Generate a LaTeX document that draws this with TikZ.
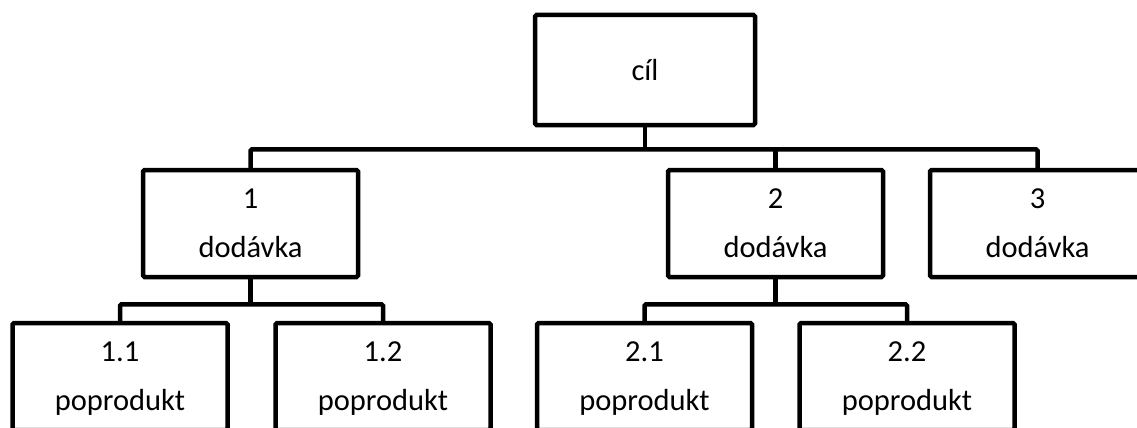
\documentclass[tikz,border=0pt]{standalone}
\usepackage{fontspec}
\setmainfont{Carlito}
\usetikzlibrary{calc}
\begin{document}
\begin{tikzpicture}[x=1pt,y=-1pt,
  box/.style={draw, line width=4.5pt, rounded corners=1.5pt, minimum width=215pt, minimum height=107pt,
    inner sep=0pt, align=center, text depth=0pt, font=\fontsize{30.5}{49}\selectfont},
  conn/.style={draw, line width=4.5pt, rounded corners=1.5pt}]
\useasboundingbox (0,0) rectangle (1137,428);
\clip (0,0) rectangle (1137,428);
\node[box, minimum width=220pt, minimum height=110pt] (cil) at (645,70) {cíl};
\node[box] (d1) at (250.5,223.5) {1\\dodávka};
\node[box] (d2) at (775.5,223.5) {2\\dodávka};
\node[box] (d3) at (1037.5,223.5) {3\\dodávka};
\node[box] (p11) at (120,376.5) {1.1\\poprodukt};
\node[box] (p12) at (383,376.5) {1.2\\poprodukt};
\node[box] (p21) at (644.5,376.5) {2.1\\poprodukt};
\node[box] (p22) at (907,376.5) {2.2\\poprodukt};
\coordinate (b0) at ($(cil.south)+(0,22)$);
\coordinate (b1) at ($(d1.south)+(0,25)$);
\coordinate (b2) at ($(d2.south)+(0,25)$);
\draw[conn] (cil.south) -- (b0);
\draw[conn] (d1.north) |- (b0) -| (d3.north);
\draw[conn] (d2.north) -- (d2.north |- b0);
\draw[conn] (d1.south) -- (b1);
\draw[conn] (p11.north) |- (b1) -| (p12.north);
\draw[conn] (d2.south) -- (b2);
\draw[conn] (p21.north) |- (b2) -| (p22.north);
\end{tikzpicture}
\end{document}
